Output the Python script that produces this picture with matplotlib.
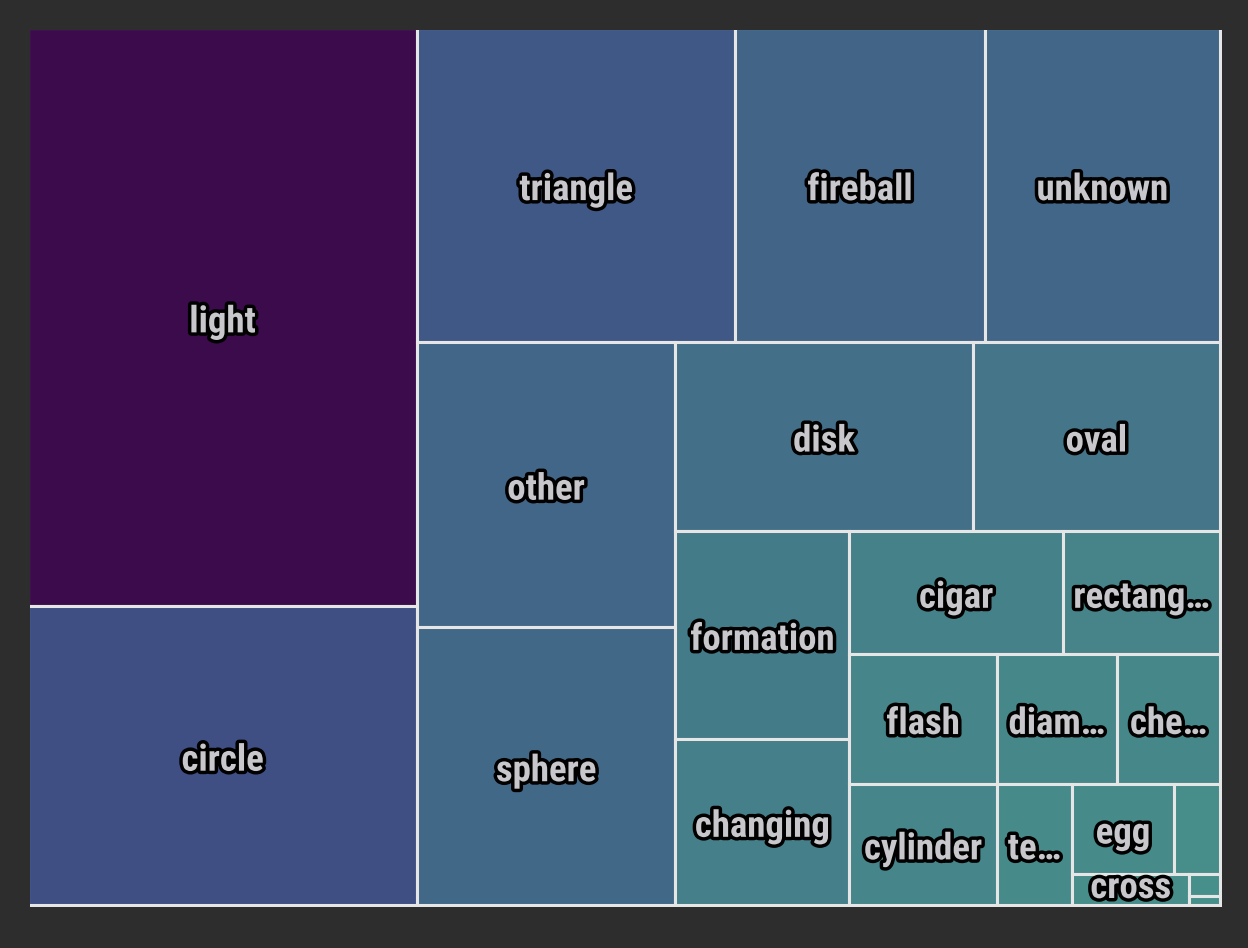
import math
import matplotlib
matplotlib.use("Agg")
import matplotlib.pyplot as plt
from matplotlib.patches import Rectangle
from matplotlib.colors import LinearSegmentedColormap
import matplotlib.patheffects as pe
from matplotlib import font_manager as fm

shapes = ["light", "circle", "triangle", "fireball", "unknown", "other", "sphere",
          "disk", "oval", "formation", "changing", "cigar", "rectangle", "flash",
          "cylinder", "diamond", "chevron", "teardrop", "egg", "cone", "cross",
          "delta", "crescent"]
counts = [16583, 8565, 7373, 5773, 5449, 5447, 5294,
          4158, 3458, 2668, 2140, 1941, 1430, 1405,
          1318, 1147, 984, 677, 676, 307, 272,
          51, 21]

# ---- figure geometry ----
FIG_W, FIG_H, DPI = 1248, 948, 100
PX0, PY0, PW, PH = 30, 30, 1190, 875
BG = "#2d2d2d"
BORDER = "#e6e6e6"

avail_names = {f.name for f in fm.fontManager.ttflist}
font_family = "DejaVu Sans"
for cand in ["Roboto Condensed", "Liberation Sans Narrow", "Open Sans Condensed", "DejaVu Sans"]:
    if cand in avail_names:
        font_family = cand
        break


def aspect(w, h):
    if any(isinstance(v, float) and math.isnan(v) for v in (w, h)):
        return float("nan")
    if w == 0 or h == 0:
        return float("inf")
    return max(w / h, h / w)


class Group:
    def __init__(self, h, w, d):
        self.height, self.width, self.direction = h, w, d
        self.total = 0.0
        self.nW = self.lW = self.nH = self.lH = 0.0
        self.elArr = []
        self.lR = self.nR = float("nan")

    def add(self, el):
        lpt = self.elArr[-1] if self.elArr else float("nan")
        self.total += el
        if self.direction == 0:
            self.lW = self.nW
            lH = lpt / self.lW if self.lW else float("nan")
            self.lR = aspect(self.lW, lH)
            self.nW = self.total / self.height
            nH = lpt / self.nW
            self.nR = aspect(self.nW, nH)
        else:
            self.lH = self.nH
            lW = lpt / self.lH if self.lH else float("nan")
            self.lR = aspect(lW, self.lH)
            self.nH = self.total / self.width
            nW = lpt / self.nH
            self.nR = aspect(nW, self.nH)
        self.elArr.append(el)

    def reset(self):
        self.nW = self.lW = 0.0
        self.elArr = []
        self.total = 0.0


def squarified(values, W, H):
    """Alternating-direction squarified layout (Highcharts style)."""
    tot = float(sum(values))
    areas = [W * H * v / tot for v in values]
    out = []
    plot = {"x": 0.0, "y": 0.0}
    g = Group(H, W, 0)

    def calc(last):
        end = len(g.elArr) - 1
        gW, gH = (g.nW, g.nH) if last else (g.lW, g.lH)
        keep = None if last else g.elArr[end]
        for i, p in enumerate(g.elArr):
            if last or i < end:
                if g.direction == 0:
                    pw, ph = gW, p / gW
                    out.append((plot["x"], plot["y"], pw, ph))
                    plot["y"] += ph
                else:
                    ph, pw = gH, p / gH
                    out.append((plot["x"], plot["y"], pw, ph))
                    plot["x"] += pw
        g.reset()
        if g.direction == 0:
            g.width -= gW
        else:
            g.height -= gH
        plot["y"] = H - g.height
        plot["x"] = W - g.width
        g.direction = 1 - g.direction
        if not last:
            g.add(keep)

    n = len(areas)
    for i, a in enumerate(areas):
        g.add(a)
        if g.nR > g.lR:
            calc(False)
        if i == n - 1:
            calc(True)
    return out


cut = 1.7   # hides the outer left/top border like the reference
ext = 1.6   # keeps the outer right/bottom border visible
LW, LH = PW + cut, PH + cut
rects = squarified(counts, LW, LH)

cmap = LinearSegmentedColormap.from_list(
    "ufo", [(0.0, "#478f8a"), (0.5, "#3f5186"), (1.0, "#3c0b4c")])
vmax = max(counts)

fig = plt.figure(figsize=(FIG_W / DPI, FIG_H / DPI), dpi=DPI, facecolor=BG)
ax = fig.add_axes([PX0 / FIG_W, (FIG_H - PY0 - (LH + ext - cut)) / FIG_H,
                   (LW + ext - cut) / FIG_W, (LH + ext - cut) / FIG_H])
ax.set_xlim(cut, LW + ext)
ax.set_ylim(LH + ext, cut)
ax.set_axis_off()
ax.set_facecolor(BG)

for (x, y, w, h), v in zip(rects, counts):
    ax.add_patch(Rectangle((x, y), w, h, facecolor=cmap(v / vmax),
                           edgecolor=BORDER, linewidth=2.2))

fig.canvas.draw()
renderer = fig.canvas.get_renderer()
outline = [pe.withStroke(linewidth=5, foreground="black")]
for (x, y, w, h), name in zip(rects, shapes):
    cy = min(y + h / 2 + 5, LH - 17)
    t = ax.text(x + w / 2, cy, name, ha="center", va="center",
                fontsize=26.5, fontweight="bold", family=[font_family, "DejaVu Sans"],
                color="#c8c8cc", path_effects=outline, clip_on=False)
    avail = w - 20
    if t.get_window_extent(renderer).width > avail:
        shown = None
        for k in range(len(name) - 1, 0, -1):
            t.set_text(name[:k] + "\u2026")
            if t.get_window_extent(renderer).width <= avail:
                shown = name[:k] + "\u2026"
                break
        if shown is None:
            t.remove()

fig.savefig("out.png", dpi=DPI, facecolor=BG)
